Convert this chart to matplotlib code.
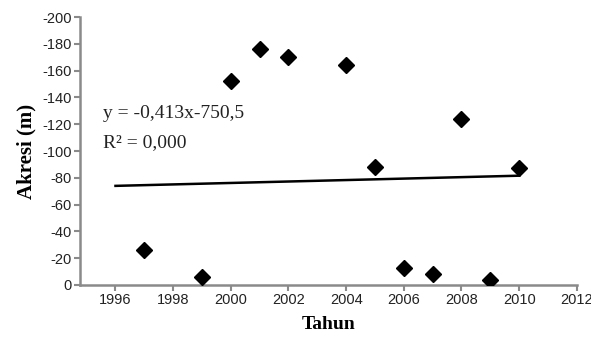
import matplotlib
matplotlib.use("Agg")
import matplotlib.pyplot as plt
import numpy as np

plt.rcParams['axes.unicode_minus'] = False

years = [1997, 1999, 2000, 2001, 2002, 2004, 2005, 2006, 2007, 2008, 2009, 2010]
akresi = [-26, -6, -152, -176, -170, -164, -88, -13, -8, -124, -4, -87]
trend_years = [1996, 2010]
trend_values = [-74, -81.6]
x_ticks = [1996, 1998, 2000, 2002, 2004, 2006, 2008, 2010, 2012]
y_ticks = [0, -20, -40, -60, -80, -100, -120, -140, -160, -180, -200]
equation = "y = -0,413x-750,5"
r2 = "R² = 0,000"

fig = plt.figure(figsize=(5.91, 3.42), dpi=100)
ax = fig.add_axes([0.1354, 0.1667, 0.976 - 0.1354, 0.950 - 0.1667])

ax.plot(trend_years, trend_values, color='black', lw=1.8, zorder=2)
ax.plot(years, akresi, linestyle='none', marker='D', ms=8, color='black', zorder=3)

ax.set_xlim(1994.77, 2012)
ax.set_ylim(0, -200)
ax.set_xticks(x_ticks)
ax.set_yticks(y_ticks)

for s in ['top', 'right']:
    ax.spines[s].set_visible(False)
for s in ['left', 'bottom']:
    ax.spines[s].set_color('#8a8a8a')
    ax.spines[s].set_linewidth(1.8)
ax.tick_params(axis='both', colors='#8a8a8a', width=1.5, length=4, direction='out',
               labelcolor='#222222', labelsize=10.5, pad=2)
for lab in ax.get_xticklabels() + ax.get_yticklabels():
    lab.set_fontfamily('Liberation Sans')

ax.set_xlabel('Tahun', fontfamily='Liberation Serif', fontweight='bold', fontsize=14, labelpad=6)
ax.set_ylabel('Akresi (m)', fontfamily='Liberation Serif', fontweight='bold', fontsize=15, labelpad=4)

ax.text(1995.55, -128, equation, fontfamily='Liberation Serif', fontsize=14,
        va='center', ha='left', color='#222222')
ax.text(1995.55, -106, r2, fontfamily='Liberation Serif', fontsize=14,
        va='center', ha='left', color='#222222')

fig.savefig('out.png', dpi=100)
